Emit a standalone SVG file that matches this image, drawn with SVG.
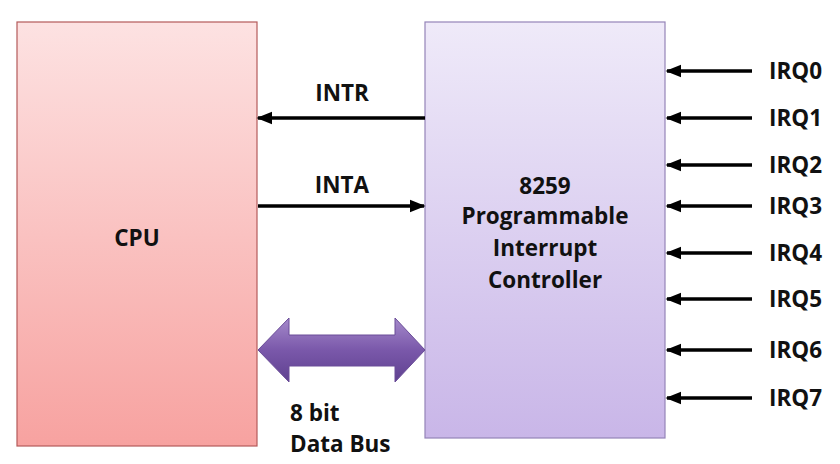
<svg xmlns="http://www.w3.org/2000/svg" width="840" height="464" viewBox="0 0 840 464">
<style>
.lbl{font-family:"Open Sans","Liberation Sans",sans-serif;font-weight:bold;font-size:22.5px;fill:#111}
.w{stroke:#000;stroke-width:3.5;fill:none}
</style>
<defs>
<linearGradient id="gc" x1="0" y1="0" x2="0" y2="1"><stop offset="0" stop-color="#fde2e2"/><stop offset="1" stop-color="#f7a2a0"/></linearGradient>
<linearGradient id="gp" x1="0" y1="0" x2="0" y2="1"><stop offset="0" stop-color="#efeaf9"/><stop offset="1" stop-color="#c9b6e8"/></linearGradient>
<linearGradient id="gb" x1="0" y1="0" x2="0" y2="1"><stop offset="0" stop-color="#a58acb"/><stop offset="0.5" stop-color="#7a58aa"/><stop offset="1" stop-color="#5f4190"/></linearGradient>
<marker id="ah" viewBox="0 0 10 10" refX="9" refY="5" markerWidth="4.5" markerHeight="4.5" orient="auto" markerUnits="strokeWidth"><path d="M0,1 L10,5 L0,9 Z" fill="#000"/></marker>
</defs>
<rect width="840" height="464" fill="#fff"/>
<g id="cpu">
<rect x="17" y="22" width="240" height="424" fill="url(#gc)" stroke="#b45a5a" stroke-width="1.2"/>
<text class="lbl" x="137" y="246" text-anchor="middle">CPU</text>
</g>
<g id="pic">
<rect x="425" y="22" width="240" height="416" fill="url(#gp)" stroke="#9484b8" stroke-width="1.2"/>
<text class="lbl" x="545" y="194" text-anchor="middle">8259</text>
<text class="lbl" x="545" y="224" text-anchor="middle">Programmable</text>
<text class="lbl" x="545" y="256" text-anchor="middle">Interrupt</text>
<text class="lbl" x="545" y="288" text-anchor="middle">Controller</text>
</g>
<g id="connectors">
<line class="w" x1="425" y1="118" x2="258" y2="118" marker-end="url(#ah)"/>
<line class="w" x1="258" y1="206" x2="424" y2="206" marker-end="url(#ah)"/>
<path d="M258,350 L289,318 L289,335 L395,335 L395,318 L425,350 L395,382 L395,366 L289,366 L289,382 Z" fill="url(#gb)" stroke="#6a4c98" stroke-width="1"/>
<line class="w" x1="752" y1="71" x2="667" y2="71" marker-end="url(#ah)"/>
<line class="w" x1="752" y1="118" x2="667" y2="118" marker-end="url(#ah)"/>
<line class="w" x1="752" y1="165" x2="667" y2="165" marker-end="url(#ah)"/>
<line class="w" x1="752" y1="206" x2="667" y2="206" marker-end="url(#ah)"/>
<line class="w" x1="752" y1="253" x2="667" y2="253" marker-end="url(#ah)"/>
<line class="w" x1="752" y1="299" x2="667" y2="299" marker-end="url(#ah)"/>
<line class="w" x1="752" y1="350" x2="667" y2="350" marker-end="url(#ah)"/>
<line class="w" x1="752" y1="398" x2="667" y2="398" marker-end="url(#ah)"/>
</g>
<g id="labels">
<text class="lbl" x="342" y="101" text-anchor="middle">INTR</text>
<text class="lbl" x="342" y="193" text-anchor="middle">INTA</text>
<text class="lbl" x="290" y="421">8 bit</text>
<text class="lbl" x="290" y="452">Data Bus</text>
<text class="lbl" x="769" y="79">IRQ0</text>
<text class="lbl" x="769" y="126">IRQ1</text>
<text class="lbl" x="769" y="173">IRQ2</text>
<text class="lbl" x="769" y="214">IRQ3</text>
<text class="lbl" x="769" y="261">IRQ4</text>
<text class="lbl" x="769" y="307">IRQ5</text>
<text class="lbl" x="769" y="358">IRQ6</text>
<text class="lbl" x="769" y="406">IRQ7</text>
</g>
</svg>
